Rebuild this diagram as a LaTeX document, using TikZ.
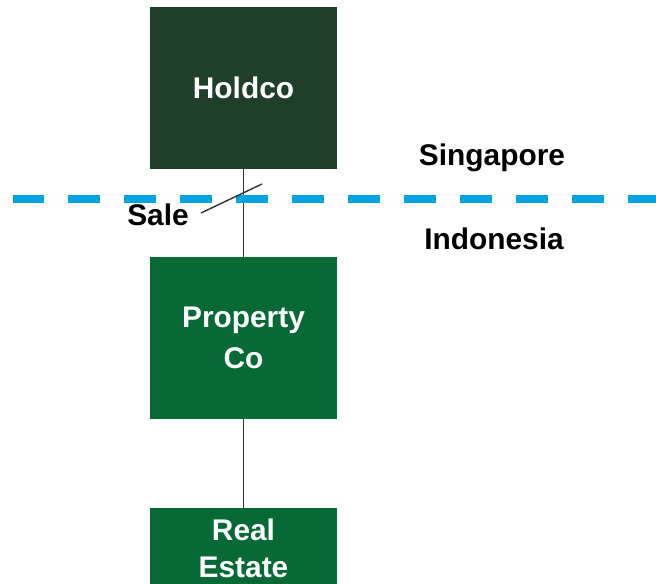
\documentclass[tikz,border=0pt]{standalone}
\usepackage{fontspec}
\setmainfont{Liberation Sans}
\usetikzlibrary{positioning}
\definecolor{holdgreen}{HTML}{1F3F28}
\definecolor{propgreen}{HTML}{066936}
\definecolor{borderblue}{HTML}{00A3E0}
\newcommand{\boldtext}{\bfseries\fontsize{17}{23.5}\selectfont}
\tikzset{
  entity/.style={fill=#1, text=white, font=\boldtext, align=center,
    minimum width=3.74cm, minimum height=3.24cm, inner sep=0pt},
  link/.style={draw=black!80, line width=0.8pt},
  border/.style={draw=borderblue, line width=4pt, dash pattern=on 0.64cm off 0.48cm},
  country/.style={font=\boldtext, inner sep=0pt}
}
\begin{document}
\begin{tikzpicture}[x=0.02cm,y=-0.02cm]
      \useasboundingbox (0,0) rectangle (656,584);
      \clip (0,0) rectangle (656,584);
      % the three entities
      \node[entity=holdgreen] (holdco) at (243.5,88) {\raisebox{-1pt}{Holdco}};
      \node[entity=propgreen] (propco) at (243.5,338) {Property\\Co};
      \node[entity=propgreen, anchor=north, minimum height=1.6cm,
        font=\bfseries\fontsize{17}{21.5}\selectfont] (estate) at (243.5,508) {Real\\Estate};
      \draw[link] (holdco) -- (propco);
      \draw[link] (propco) -- (estate);
      % border between the two countries
      \draw[border] (12.5,199) -- (700,199);
      \node[country] (sing) at (492,158) {Singapore};
      \node[country] (indo) at (494,239) {Indonesia};
      % sale marker
      \draw[link] (201,213) -- (262,184);
      \node[country] (sale) at (158,215) {Sale};
    \end{tikzpicture}
\end{document}
